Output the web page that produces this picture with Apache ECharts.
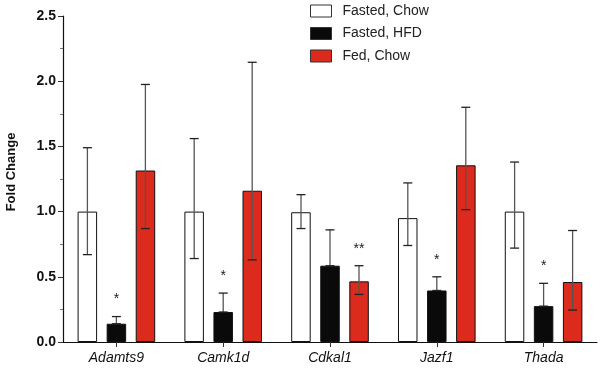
<!DOCTYPE html>
<html>
<head>
<meta charset="utf-8">
<script src="https://cdn.jsdelivr.net/npm/echarts@6/dist/echarts.min.js"></script>
<style>html,body{margin:0;padding:0;background:#fff}#c{width:600px;height:368px}</style>
</head>
<body>
<div id="c"></div>
<script>
var categories = ['Adamts9', 'Camk1d', 'Cdkal1', 'Jazf1', 'Thada'];
var seriesNames = ['Fasted, Chow', 'Fasted, HFD', 'Fed, Chow'];
var fastedChow = [1.00, 1.00, 0.995, 0.95, 1.00];
var fastedChowHigh = [1.49, 1.56, 1.13, 1.22, 1.38];
var fastedChowLow = [0.67, 0.64, 0.87, 0.74, 0.72];
var fastedHFD = [0.14, 0.23, 0.585, 0.395, 0.275];
var fastedHFDHigh = [0.195, 0.375, 0.86, 0.50, 0.45];
var fastedHFDLow = [0.14, 0.23, 0.585, 0.395, 0.275];
var fedChow = [1.315, 1.16, 0.465, 1.355, 0.46];
var fedChowHigh = [1.975, 2.145, 0.585, 1.80, 0.855];
var fedChowLow = [0.87, 0.63, 0.365, 1.015, 0.245];
var sigHFD = ['*', '*', '', '*', '*'];
var sigFed = ['', '', '**', '', ''];
var yTicks = [0, 0.5, 1.0, 1.5, 2.0, 2.5];

var FONT = 'Liberation Sans, Arial, Helvetica, sans-serif';
var BAR_W = 19.5, STEP = 29;
var values = [fastedChow, fastedHFD, fedChow];
var highs = [fastedChowHigh, fastedHFDHigh, fedChowHigh];
var lows = [fastedChowLow, fastedHFDLow, fedChowLow];
var sigs = [[], sigHFD, sigFed];
var colors = ['#ffffff', '#0a0a0a', '#dc2a1c'];

function errSeries(k) {
  var data = categories.map(function (c, i) {
    return [i, lows[k][i], highs[k][i], sigs[k][i] || ''];
  });
  return {
    type: 'custom',
    name: seriesNames[k] + ' err',
    z: 5,
    silent: true,
    data: data,
    renderItem: function (params, api) {
      var idx = api.value(0);
      var off = (k - 1) * STEP;
      var pHi = api.coord([idx, api.value(2)]);
      var pLo = api.coord([idx, api.value(1)]);
      var x = pHi[0] + off;
      var capW = 9;
      var children = [
        {type: 'line', shape: {x1: x, y1: pHi[1], x2: x, y2: pLo[1]}, style: {stroke: '#555', lineWidth: 1.3}},
        {type: 'line', shape: {x1: x - capW / 2, y1: pHi[1], x2: x + capW / 2, y2: pHi[1]}, style: {stroke: '#222', lineWidth: 1.3}},
        {type: 'line', shape: {x1: x - capW / 2, y1: pLo[1], x2: x + capW / 2, y2: pLo[1]}, style: {stroke: '#222', lineWidth: 1.3}}
      ];
      var s = data[params.dataIndex][3];
      if (s) {
        children.push({type: 'text', style: {text: s, x: x, y: pHi[1] - 17, textAlign: 'center', textVerticalAlign: 'middle', fontSize: 14, fontFamily: FONT, fill: '#222'}});
      }
      return {type: 'group', children: children};
    }
  };
}

var series = [];
for (var k = 0; k < 3; k++) {
  series.push({
    type: 'bar',
    name: seriesNames[k],
    data: values[k],
    barWidth: BAR_W,
    barGap: '49%',
    itemStyle: {color: colors[k], borderColor: '#111', borderWidth: 1},
    silent: true
  });
}
for (var k2 = 0; k2 < 3; k2++) series.push(errSeries(k2));

var chart = echarts.init(document.getElementById('c'), null, {renderer: 'canvas'});
chart.setOption({
  animation: false,
  backgroundColor: '#fff',
  textStyle: {fontFamily: FONT},
  legend: {
    data: seriesNames.map(function (n, i) {
      return {name: n, itemStyle: {color: colors[i], borderColor: '#333', borderWidth: 1}};
    }),
    orient: 'vertical',
    left: 305,
    top: -1,
    itemWidth: 21,
    itemHeight: 12,
    itemGap: 8.5,
    icon: 'rect',
    selectedMode: false,
    textStyle: {fontSize: 14, color: '#222', fontFamily: FONT, padding: [0, 0, 0, 6]}
  },
  grid: {left: 63, right: 3, top: 16, bottom: 26, containLabel: false, outerBoundsMode: 'none'},
  xAxis: {
    type: 'category',
    data: categories,
    axisLine: {lineStyle: {color: '#111', width: 1.2}},
    axisTick: {show: true, alignWithLabel: true, length: 5, lineStyle: {color: '#333'}},
    axisLabel: {fontStyle: 'italic', fontSize: 14, color: '#111', margin: 9, fontFamily: FONT}
  },
  yAxis: {
    type: 'value',
    min: yTicks[0],
    max: yTicks[yTicks.length - 1],
    interval: 0.5,
    name: 'Fold Change',
    nameLocation: 'middle',
    nameGap: 45,
    nameTextStyle: {fontWeight: 'bold', fontSize: 13, color: '#111', fontFamily: FONT, padding: [0, 0, 0, 14]},
    axisLine: {show: true, lineStyle: {color: '#111', width: 1.2}},
    axisTick: {show: true, length: 5, lineStyle: {color: '#333'}},
    minorTick: {show: true, splitNumber: 2, length: 3, lineStyle: {color: '#777'}},
    splitLine: {show: false},
    axisLabel: {fontWeight: 'bold', fontSize: 14, color: '#111', margin: 7, fontFamily: FONT,
      formatter: function (v) { return v.toFixed(1); }}
  },
  series: series
});
</script>
</body>
</html>
